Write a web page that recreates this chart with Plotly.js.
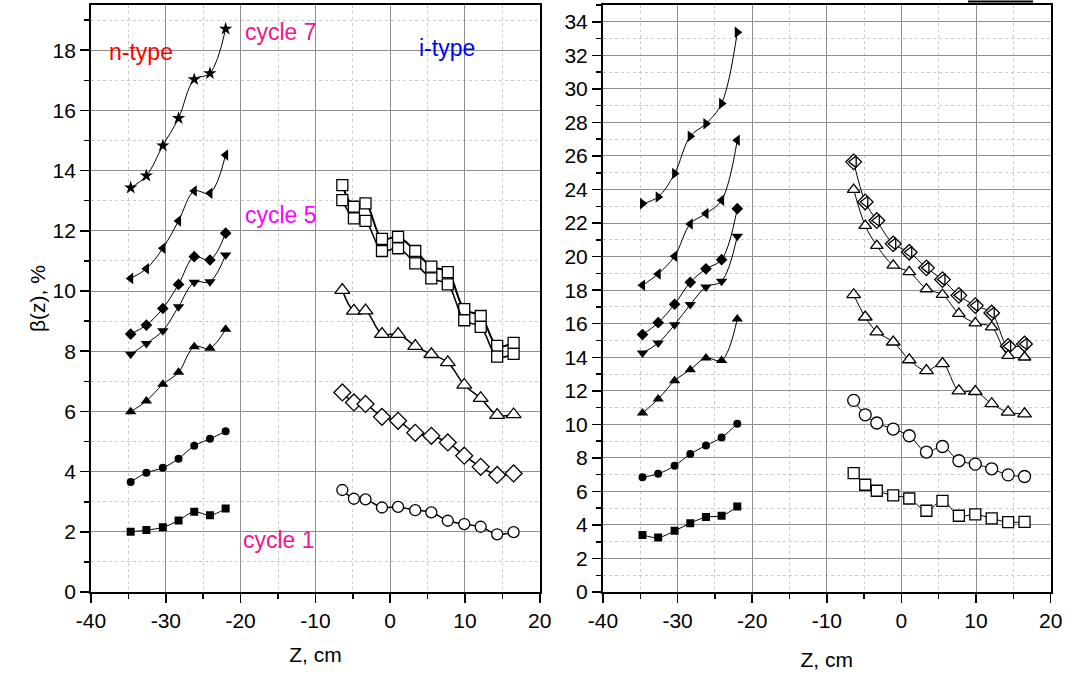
<!DOCTYPE html>
<html>
<head>
<meta charset="utf-8">
<script src="https://cdn.plot.ly/plotly-3.0.1.min.js"></script>
<style>html,body{margin:0;padding:0;background:#fff;}#chart{width:1071px;height:679px;}</style>
</head>
<body>
<div id="chart"></div>
<script>
// Z positions (cm)
const zN = [-34.7, -32.6, -30.4, -28.3, -26.2, -24.1, -22.0];
const zI = [-6.4, -4.85, -3.3, -1.1, 1.05, 3.35, 5.5, 7.7, 9.9, 12.1, 14.3, 16.5];

// Tick labels
const xTickVals = [-40, -30, -20, -10, 0, 10, 20];
const xTickText = ['-40', '-30', '-20', '-10', '0', '10', '20'];

// Left panel, n-type
const L_n7 = [13.43, 13.83, 14.83, 15.74, 17.03, 17.23, 18.71];
const L_n6 = [10.42, 10.74, 11.42, 12.33, 13.32, 13.25, 14.52];
const L_n5 = [8.57, 8.87, 9.42, 10.22, 11.14, 11.03, 11.92];
const L_n4 = [7.90, 8.26, 8.68, 9.48, 10.29, 10.31, 11.20];
const L_n3 = [5.99, 6.35, 6.90, 7.30, 8.15, 8.10, 8.73];
const L_n2 = [3.66, 3.96, 4.13, 4.43, 4.86, 5.09, 5.34];
const L_n1 = [2.00, 2.06, 2.15, 2.38, 2.67, 2.55, 2.78];

// Left panel, i-type
const L_iA = [13.52, 12.80, 12.91, 11.73, 11.80, 11.33, 10.81, 10.63, 9.40, 9.17, 8.18, 8.28];
const L_iB = [13.02, 12.41, 12.33, 11.33, 11.42, 10.92, 10.42, 10.22, 9.03, 8.81, 7.82, 7.91];
const L_iT = [10.03, 9.34, 9.35, 8.57, 8.57, 8.17, 7.90, 7.63, 6.88, 6.44, 5.88, 5.90];
const L_iD = [6.63, 6.30, 6.25, 5.82, 5.69, 5.29, 5.19, 4.97, 4.53, 4.16, 3.89, 3.94];
const L_iC = [3.39, 3.10, 3.08, 2.81, 2.83, 2.72, 2.65, 2.37, 2.26, 2.17, 1.92, 1.99];

// Right panel, n-type
const R_n7 = [23.16, 23.56, 24.95, 27.18, 27.92, 29.13, 33.38];
const R_n6 = [18.29, 18.97, 20.02, 21.95, 22.57, 23.36, 26.94];
const R_n5 = [15.35, 16.06, 17.16, 18.47, 19.27, 19.82, 22.86];
const R_n4 = [14.25, 14.85, 15.94, 17.14, 18.19, 18.53, 21.21];
const R_n3 = [10.67, 11.51, 12.60, 13.26, 13.96, 13.81, 16.28];
const R_n2 = [6.85, 7.05, 7.53, 8.23, 8.74, 9.22, 10.04];
const R_n1 = [3.41, 3.25, 3.65, 4.11, 4.47, 4.55, 5.10];

// Right panel, i-type
const R_iA = [25.65, 23.26, 22.15, 20.76, 20.26, 19.33, 18.63, 17.69, 17.08, 16.64, 14.65, 14.79];
const R_iB = [24.0, 21.85, 20.66, 19.48, 19.09, 18.07, 17.73, 16.60, 16.04, 15.80, 14.1, 14.0];
const R_iC = [17.73, 16.40, 15.51, 14.91, 13.85, 13.20, 13.62, 12.00, 11.96, 11.23, 10.73, 10.63];
const R_iO = [11.43, 10.57, 10.08, 9.72, 9.32, 8.35, 8.68, 7.83, 7.63, 7.35, 6.99, 6.89];
const R_iS = [7.09, 6.40, 6.04, 5.76, 5.58, 4.85, 5.44, 4.55, 4.63, 4.39, 4.17, 4.19];

const FONT = 'Liberation Sans, Arial, sans-serif';

function filled(x, y, xa, ya, sym, size) {
  return {x: x, y: y, xaxis: xa, yaxis: ya, type: 'scatter', mode: 'lines+markers',
    line: {shape: 'spline', smoothing: 1, color: '#000', width: 1},
    marker: {symbol: sym, size: size, color: '#000', line: {width: 0}},
    showlegend: false, hoverinfo: 'skip'};
}
function open(x, y, xa, ya, sym, size, lw, mode) {
  return {x: x, y: y, xaxis: xa, yaxis: ya, type: 'scatter', mode: mode || 'lines+markers',
    line: {shape: 'spline', smoothing: 1, color: '#000', width: lw},
    marker: {symbol: sym, size: size, color: '#fff', line: {width: 1.3, color: '#000'}},
    showlegend: false, hoverinfo: 'skip'};
}

const traces = [
  filled(zN, L_n7, 'x', 'y', 'star', 10),
  filled(zN, L_n6, 'x', 'y', 'triangle-left', 10),
  filled(zN, L_n5, 'x', 'y', 'diamond', 9),
  filled(zN, L_n4, 'x', 'y', 'triangle-down', 10),
  filled(zN, L_n3, 'x', 'y', 'triangle-up', 10),
  filled(zN, L_n2, 'x', 'y', 'circle', 8),
  filled(zN, L_n1, 'x', 'y', 'square', 8),
  open(zI, L_iA, 'x', 'y', 'square', 11, 2),
  open(zI, L_iB, 'x', 'y', 'square', 11, 1.5),
  open(zI, L_iT, 'x', 'y', 'triangle-up', 13, 1.5),
  open(zI, L_iD, 'x', 'y', 'diamond', 13, 1.5),
  open(zI, L_iC, 'x', 'y', 'circle', 11, 1.5),

  filled(zN, R_n7, 'x2', 'y2', 'triangle-right', 10),
  filled(zN, R_n6, 'x2', 'y2', 'triangle-left', 10),
  filled(zN, R_n5, 'x2', 'y2', 'diamond', 9),
  filled(zN, R_n4, 'x2', 'y2', 'triangle-down', 10),
  filled(zN, R_n3, 'x2', 'y2', 'triangle-up', 10),
  filled(zN, R_n2, 'x2', 'y2', 'circle', 8),
  filled(zN, R_n1, 'x2', 'y2', 'square', 8),
  open(zI, R_iA, 'x2', 'y2', 'diamond', 12, 1),
  open(zI, R_iA, 'x2', 'y2', 'triangle-left', 10, 1, 'markers'),
  open(zI, R_iB, 'x2', 'y2', 'triangle-up', 11, 1),
  open(zI, R_iC, 'x2', 'y2', 'triangle-up', 12, 1),
  open(zI, R_iO, 'x2', 'y2', 'circle', 12, 1),
  open(zI, R_iS, 'x2', 'y2', 'square', 11, 1)
];

const xDomL = [0.085, 0.504], xDomR = [0.563, 0.981], yDom = [0.128, 0.9926];
const tickFont = {family: FONT, size: 21, color: '#000'};

function xBase(dom, anchor, title, standoff) {
  return {domain: dom, anchor: anchor, range: [-40, 20], tickmode: 'array',
    tickvals: xTickVals, ticktext: xTickText, automargin: false,
    showline: true, linecolor: '#000', linewidth: 2, mirror: true,
    ticks: 'outside', ticklen: 9, tickwidth: 1.5, tickcolor: '#000',
    showgrid: true, gridcolor: '#8f8f8f', gridwidth: 1, zeroline: false,
    tickfont: tickFont,
    minor: {tickmode: 'linear', dtick: 5, tick0: 0, ticks: 'outside', ticklen: 5, tickwidth: 1.5, tickcolor: '#000',
      showgrid: true, gridcolor: '#cccccc', griddash: 'dot', gridwidth: 1},
    title: {text: title, font: {family: FONT, size: 21, color: '#000'}, standoff: standoff}};
}
function yBase(dom, anchor, max) {
  return {domain: dom, anchor: anchor, range: [0, max], dtick: 2, tick0: 0, automargin: false,
    showline: true, linecolor: '#000', linewidth: 2, mirror: true,
    ticks: 'outside', ticklen: 9, tickwidth: 1.5, tickcolor: '#000',
    showgrid: true, gridcolor: '#8f8f8f', gridwidth: 1, zeroline: false,
    tickfont: tickFont,
    minor: {dtick: 1, tick0: 0, ticks: 'outside', ticklen: 5, tickwidth: 1.5, tickcolor: '#000',
      showgrid: true, gridcolor: '#cccccc', griddash: 'dot', gridwidth: 1}};
}
function xMirror(over, anchor) {
  return {overlaying: over, anchor: anchor, side: 'top', range: [-40, 20], dtick: 10, tick0: 0,
    showline: false, showgrid: false, zeroline: false, showticklabels: false, automargin: false,
    ticks: 'inside', ticklen: 9, tickwidth: 1.5, tickcolor: '#000',
    minor: {dtick: 5, tick0: 0, ticks: 'inside', ticklen: 5, tickwidth: 1.5, tickcolor: '#000', showgrid: false}};
}
function yMirror(over, anchor, max) {
  return {overlaying: over, anchor: anchor, side: 'right', range: [0, max], dtick: 2, tick0: 0,
    showline: false, showgrid: false, zeroline: false, showticklabels: false, automargin: false,
    ticks: 'inside', ticklen: 9, tickwidth: 1.5, tickcolor: '#000',
    minor: {dtick: 1, tick0: 0, ticks: 'inside', ticklen: 5, tickwidth: 1.5, tickcolor: '#000', showgrid: false}};
}

const yL = yBase(yDom, 'x', 19.5);
yL.title = {text: 'β(z), %', font: {family: FONT, size: 21, color: '#000'}, standoff: 1};

function note(px, py, text, color) {
  return {xref: 'paper', yref: 'paper', x: px / 1071, y: 1 - py / 679, xanchor: 'center', yanchor: 'middle',
    text: text, showarrow: false, font: {family: FONT, size: 23, color: color}};
}

const layout = {
  width: 1071, height: 679,
  margin: {l: 0, r: 0, t: 0, b: 0},
  paper_bgcolor: '#fff', plot_bgcolor: '#fff',
  showlegend: false,
  xaxis: xBase(xDomL, 'y', 'Z, cm', 16),
  yaxis: yL,
  xaxis2: xBase(xDomR, 'y2', 'Z, cm', 21),
  yaxis2: yBase(yDom, 'x2', 35),
  xaxis3: xMirror('x', 'y'),
  yaxis3: yMirror('y', 'x', 19.5),
  xaxis4: xMirror('x2', 'y2'),
  yaxis4: yMirror('y2', 'x2', 35),
  annotations: [
    note(141, 52, 'n-type', '#ff0000'),
    note(281, 32, 'cycle 7', '#f0168c'),
    note(447, 48, 'i-type', '#0000ff'),
    note(281, 215, 'cycle 5', '#ff00ff'),
    note(279, 540, 'cycle 1', '#f0168c')
  ],
  shapes: [
    {type: 'line', xref: 'paper', yref: 'paper', x0: 968 / 1071, x1: 1033 / 1071,
     y0: 1 - 1.5 / 679, y1: 1 - 1.5 / 679, line: {color: '#000', width: 2}}
  ]
};

Plotly.newPlot('chart', traces, layout, {staticPlot: true, displayModeBar: false});
</script>
</body>
</html>
